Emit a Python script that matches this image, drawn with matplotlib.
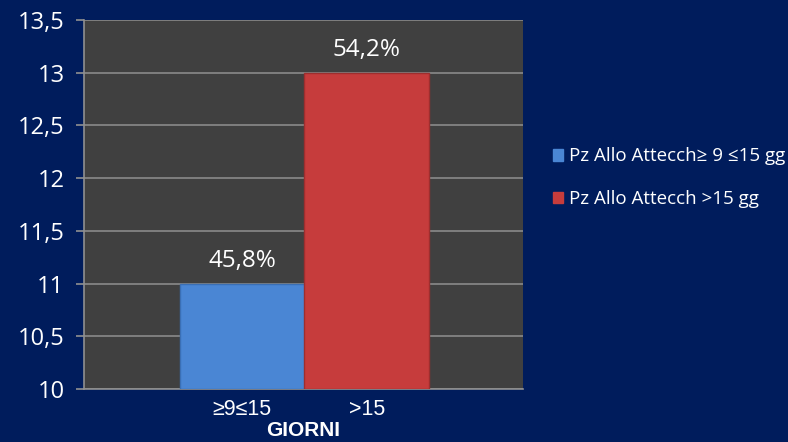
import matplotlib
matplotlib.use("Agg")
import matplotlib.pyplot as plt
from matplotlib.patches import Patch

categories = ["≥9≤15", ">15"]
values = [11, 13]
labels = ["45,8%", "54,2%"]
series_names = ["Pz Allo Attecch≥ 9 ≤15 gg", "Pz Allo Attecch >15 gg"]
colors = ["#4a86d4", "#c63c3c"]
yticks = [10, 10.5, 11, 11.5, 12, 12.5, 13, 13.5]
ytick_labels = ["10", "10,5", "11", "11,5", "12", "12,5", "13", "13,5"]

bg = "#001c5c"
fig = plt.figure(figsize=(7.88, 4.42), dpi=100, facecolor=bg)
ax = fig.add_axes([84/788, 1-389/442, (523-84)/788, (389-20)/442])
ax.set_facecolor("#404040")

x = [0, 1]
bars = ax.bar(x, [v - 10 for v in values], bottom=10, width=1.0, color=colors,
              edgecolor=["#3a6fb5", "#9e2e2e"], linewidth=1.0, zorder=3)
for xi, v, lab in zip(x, values, labels):
    ax.text(xi, v + 0.1, lab, ha="center", va="bottom", color="white",
            fontsize=17.5, family="Open Sans", zorder=4)

ax.set_xlim(-1.264, 2.248)
ax.set_ylim(10, 13.5)
ax.set_yticks(yticks)
ax.set_yticklabels(ytick_labels, family="Open Sans", fontsize=17, color="white")
ax.set_xticks(x)
ax.set_xticklabels(categories, family="Liberation Sans", fontsize=15.5, color="white")
ax.tick_params(axis="x", length=0, pad=7)
ax.tick_params(axis="y", length=6, color="#909090", width=1.2, pad=8)
ax.yaxis.grid(True, color="#8a8a8a", linewidth=1.2, zorder=1)
ax.set_axisbelow(True)
for s in ["top", "right"]:
    ax.spines[s].set_visible(False)
for s in ["left", "bottom"]:
    ax.spines[s].set_color("#909090")
    ax.spines[s].set_linewidth(1.2)
ax.set_xlabel("GIORNI", family="Liberation Sans", fontsize=15, fontweight="bold",
              color="white", labelpad=1)

handles = [Patch(facecolor=c, edgecolor=c) for c in colors]
fig.legend(handles, series_names, loc="center left", bbox_to_anchor=(0.68, 0.598),
           frameon=False, labelcolor="white", prop={"family": "Open Sans", "size": 13.5},
           handlelength=0.55, handleheight=0.55, handletextpad=0.3, labelspacing=1.3)

fig.savefig("out.png", dpi=100, facecolor=bg)
